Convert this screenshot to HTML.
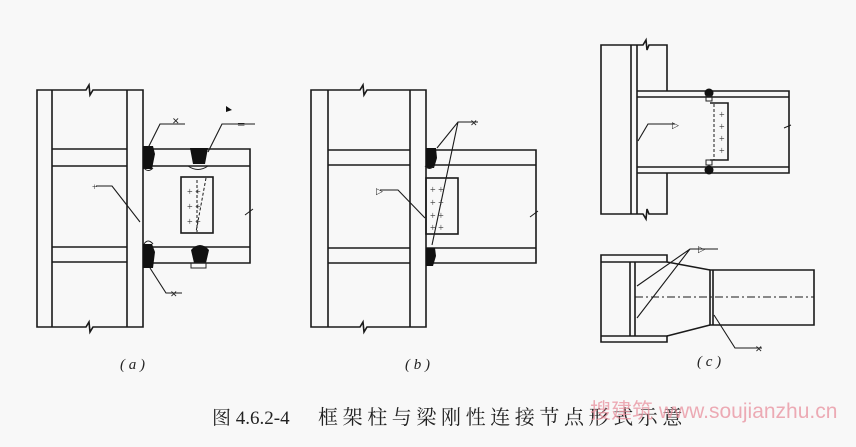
<!DOCTYPE html>
<html><head><meta charset="utf-8"><style>
html,body{margin:0;padding:0;background:#f8f8f8;}
svg{display:block}
</style></head><body>
<svg width="856" height="447" viewBox="0 0 856 447" xmlns="http://www.w3.org/2000/svg">
<rect width="856" height="447" fill="#f8f8f8"/>
<g fill="none" stroke="#1a1a1a" stroke-width="1.6">
<!-- (a) -->
<path d="M37 90 H86 l3 -5 l1 10 l3 -5 H143 V327 H93 l-3 5 l-1 -10 l-3 5 H37 Z"/>
<path d="M52 90 V327 M127 90 V327"/>
<path d="M52 149 H127 M52 166 H127 M52 247 H127 M52 262 H127"/>
<path d="M143 149 H250 V263 H143 M143 166 H250 M143 247 H250"/>
<path d="M245 215 l8 -6" stroke-width="1"/>
<rect x="181" y="177" width="32" height="56"/>
<path d="M197 180 V232 M206 178 L196 232" stroke-dasharray="3,2" stroke-width="1"/>
<path d="M145 154 L160 124 H185 M208 152 L222 124 H255 M140 222 L112 186 H96 M150 268 L166 293 H182" stroke-width="1.1"/>
<!-- (b) -->
<path d="M311 90 H360 l3 -5 l1 10 l3 -5 H426 V327 H367 l-3 5 l-1 -10 l-3 5 H311 Z"/>
<path d="M328 90 V327 M410 90 V327"/>
<path d="M328 150 H410 M328 165 H410 M328 248 H410 M328 263 H410"/>
<path d="M426 150 H536 V263 H426 M426 165 H536 M426 248 H536"/>
<path d="M530 217 l8 -6" stroke-width="1"/>
<rect x="426" y="178" width="32" height="56"/>
<path d="M437 148 L458 122 H478 M458 122 L432 245 M425 218 L398 190 H380" stroke-width="1.1"/>
<!-- (c) top -->
<path d="M667 91 V45 H649 l-2 5 l-1 -10 l-3 5 H601 V214 H643 l3 5 l1 -10 l2 5 H667 V173"/>
<path d="M631 45 V214 M637 45 V214"/>
<path d="M637 91 H789 V173 H637 M637 97 H789 M637 167 H789"/>
<path d="M784 128 l7 -3" stroke-width="1"/>
<path d="M710 103 H728 V160 H710" />
<path d="M714 104 V160" stroke-dasharray="3,2" stroke-width="1"/>
<path d="M638 141 L648 124 H675" stroke-width="1.1"/>
<!-- (c) bottom -->
<path d="M601 255 H667 V262 H601 Z M601 262 V336 M601 336 H667 V342 H601 Z"/>
<path d="M630 262 V336 M635 262 V336"/>
<path d="M667 262 L710 270 M667 336 L710 325"/>
<path d="M710 270 H814 V325 H710 Z M713 270 V325"/>
<path d="M635 297 H814" stroke-dasharray="8,3,2,3" stroke-width="1"/>
<path d="M637 286 L690 249 H718 M637 318 L690 249 M714 315 L735 348 H762" stroke-width="1.1"/>
</g>
<g fill="#111">
<path d="M143 146 h10 l2 8 l-3 15 h-9 Z"/>
<path d="M143 244 h9 l3 8 l-2 16 h-10 Z"/>
<path d="M190 148 h18 l-3 16 h-12 Z"/>
<path d="M191 250 q9 -10 18 0 l-3 13 h-12 Z"/>
<path d="M426 148 h10 l1 10 l-3 10 h-8 Z"/>
<path d="M426 248 h9 l1 8 l-3 10 h-7 Z"/>
<circle cx="709" cy="93" r="4.5"/>
<circle cx="709" cy="170" r="4.5"/>
<path d="M226 106 l6 4 l-6 2 Z"/>
</g>
<g fill="none" stroke="#222" stroke-width="1">
<path d="M144 168 q4 5 9 0 M144 244 q4 -6 9 0 M188 166 q10 7 20 0 M425 166 q4 5 9 0"/>
<rect x="191" y="263" width="15" height="5"/>
<rect x="706" y="96" width="6" height="5"/><rect x="706" y="160" width="6" height="5"/>
</g>
<g font-family="Liberation Serif, serif" font-size="9" fill="#222">
<text x="172" y="124">✕</text><text x="238" y="127">═</text><text x="92" y="190">+</text>
<text x="170" y="297">✕</text><text x="470" y="126">✕</text><text x="376" y="194">▷</text>
<text x="672" y="128">▷</text><text x="698" y="252">▷</text><text x="755" y="352">✕</text>
</g>
<g font-family="Liberation Serif, serif" font-size="10" fill="#333">
<text x="187" y="195">+  +</text><text x="187" y="210">+  +</text><text x="187" y="225">+  +</text>
<text x="430" y="193">+  +</text><text x="430" y="206">+  +</text><text x="430" y="219">+  +</text><text x="430" y="231">+  +</text>
<text x="719" y="118">+</text><text x="719" y="130">+</text><text x="719" y="142">+</text><text x="719" y="154">+</text>
</g>
<g font-family="Liberation Serif, serif" font-size="15" font-style="italic" fill="#222">
<text x="120" y="369">( a )</text>
<text x="405" y="369">( b )</text>
<text x="697" y="366">( c )</text>
</g>
<text x="212" y="424" font-family="Liberation Serif, 'Noto Serif CJK SC', serif" font-size="19" fill="#222">图 4.6.2-4</text>
<text x="318" y="424" font-family="Liberation Serif, 'Noto Serif CJK SC', serif" font-size="20" letter-spacing="4.6" fill="#222">框架柱与梁刚性连接节点形式示意</text>
<text x="590" y="418" font-family="Liberation Sans, 'Noto Sans CJK SC', sans-serif" font-size="21" fill="#e88a98" opacity="0.7">搜建筑 www.soujianzhu.cn</text>
</svg>
</body></html>
